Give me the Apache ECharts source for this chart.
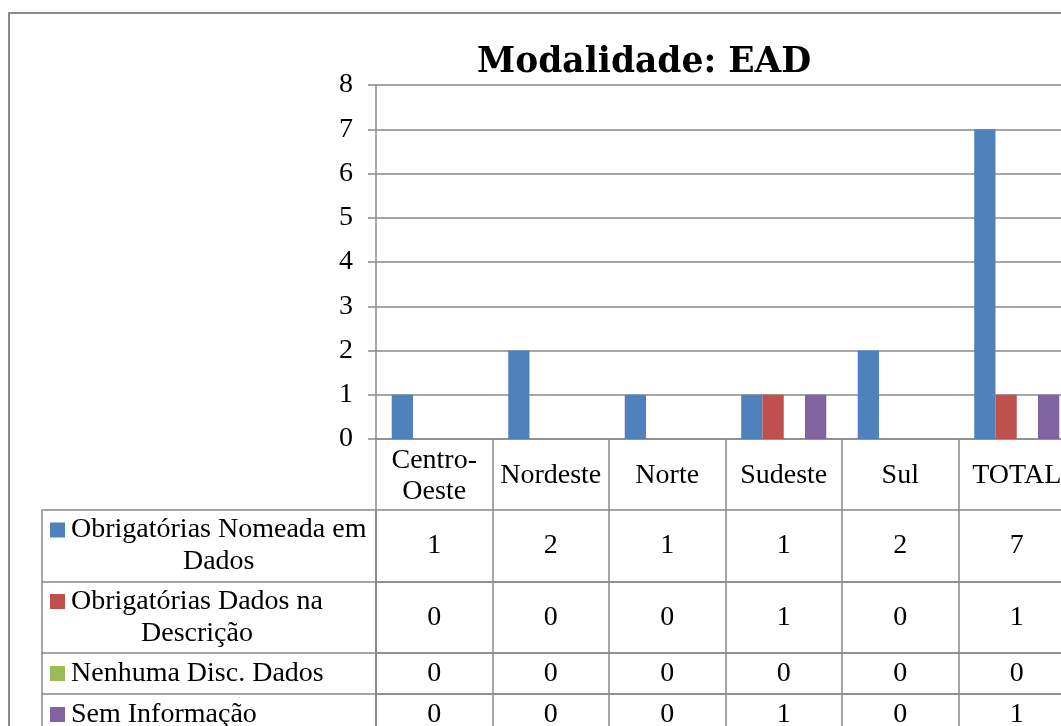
<!DOCTYPE html>
<html><head><meta charset="utf-8">
<script src="https://cdn.jsdelivr.net/npm/echarts@6/dist/echarts.min.js"></script>
<style>
html,body{margin:0;padding:0;overflow:hidden;background:#fff;width:1061px;height:726px;}
#frame{position:absolute;left:8px;top:12px;width:1200px;height:900px;border:2px solid #8a8a8a;box-sizing:border-box;}
#chart{position:absolute;left:0;top:0;width:1100px;height:760px;}
</style></head><body>
<div id="frame"></div><div id="chart"></div>
<script>
const titleText = 'Modalidade: EAD';
const categories = ['Centro-\nOeste', 'Nordeste', 'Norte', 'Sudeste', 'Sul', 'TOTAL'];
const seriesNames = ['Obrigatórias Nomeada em Dados', 'Obrigatórias Dados na Descrição', 'Nenhuma Disc. Dados', 'Sem Informação'];
const rowLabelLines = [['Obrigatórias Nomeada em', 'Dados'], ['Obrigatórias Dados na', 'Descrição'], ['Nenhuma Disc. Dados'], ['Sem Informação']];
const obrigNomeada = [1, 2, 1, 1, 2, 7];
const obrigDescricao = [0, 0, 0, 1, 0, 1];
const nenhumaDisc = [0, 0, 0, 0, 0, 0];
const semInformacao = [0, 0, 0, 1, 0, 1];
const yMin = 0, yMax = 8, yInterval = 1;
const colors = ['#4F81BD', '#C0504D', '#9BBB59', '#8064A2'];

const allSeries = [obrigNomeada, obrigDescricao, nenhumaDisc, semInformacao];
const W = 1100, H = 760;
const FONT = 'Liberation Serif';
const FS = 28;
const GRAY = '#8a8a8a';
const LW = 1.5;
const plotL = 376, plotR = 1075, plotT = 85, plotB = 439;
const rowTops = [510, 582, 653, 694];
const rowHeights = [72, 71, 41, 41];
const tableLeft = 42;

const grids = [{left: plotL, right: W - plotR, top: plotT, bottom: H - plotB}];
const xAxes = [{
  type: 'category', gridIndex: 0, data: categories,
  axisLine: {show: true, lineStyle: {color: GRAY, width: LW}},
  axisTick: {show: true, interval: 0, length: 71, alignWithLabel: false, lineStyle: {color: GRAY, width: LW}},
  axisLabel: {interval: 0, margin: 37, verticalAlign: 'middle', lineHeight: 31, fontFamily: FONT, fontSize: FS, color: '#000'}
}];
const yAxes = [{
  type: 'value', gridIndex: 0, min: yMin, max: yMax, interval: yInterval,
  axisLine: {show: true, lineStyle: {color: GRAY, width: LW}},
  axisTick: {show: true, length: 8, lineStyle: {color: GRAY, width: LW}},
  splitLine: {show: true, lineStyle: {color: GRAY, width: LW}},
  axisLabel: {margin: 23, fontFamily: FONT, fontSize: FS, color: '#000'}
}];
const series = [];
allSeries.forEach((vals, i) => {
  series.push({
    type: 'bar', name: seriesNames[i], xAxisIndex: 0, yAxisIndex: 0, data: vals,
    barGap: '0%', barCategoryGap: '27%', itemStyle: {color: colors[i]}, silent: true
  });
});

const rich = {
  t: {fontFamily: FONT, fontSize: FS, color: '#000', lineHeight: 32, padding: [0, 0, 0, 6]},
  c: {fontFamily: FONT, fontSize: FS, color: '#000', lineHeight: 32, align: 'center', padding: [0, 0, 0, 21]}
};
colors.forEach((c, i) => { rich['k' + i] = {width: 15, height: 15, backgroundColor: c, lineHeight: 32}; });

allSeries.forEach((vals, r) => {
  const gi = grids.length;
  grids.push({left: plotL, right: W - plotR, top: rowTops[r], height: rowHeights[r], show: true, borderColor: GRAY, borderWidth: LW, backgroundColor: 'transparent'});
  const xi = xAxes.length;
  xAxes.push({
    type: 'category', gridIndex: gi, data: categories,
    axisLine: {show: false}, axisTick: {show: false}, axisLabel: {show: false},
    splitLine: {show: true, interval: 0, lineStyle: {color: GRAY, width: LW}}
  });
  const yi = yAxes.length;
  const lines = rowLabelLines[r];
  yAxes.push({
    type: 'category', gridIndex: gi, data: [seriesNames[r]], position: 'left',
    axisLine: {show: true, lineStyle: {color: GRAY, width: LW}},
    axisTick: {show: true, length: plotL - tableLeft, alignWithLabel: false, lineStyle: {color: GRAY, width: LW}},
    splitLine: {show: false},
    axisLabel: {
      margin: plotL - 50, align: 'left', verticalAlign: 'middle',
      formatter: () => '{k' + r + '|}{t|' + lines[0] + '}' + (lines[1] ? '\n{c|' + lines[1] + '}' : ''),
      rich: rich
    }
  });
  yAxes.push({
    type: 'category', gridIndex: gi, data: [seriesNames[r]], position: 'left', offset: plotL - tableLeft,
    axisLine: {show: true, lineStyle: {color: GRAY, width: LW}},
    axisTick: {show: false}, axisLabel: {show: false}, splitLine: {show: false}
  });
  series.push({
    type: 'scatter', xAxisIndex: xi, yAxisIndex: yi, symbolSize: 1,
    itemStyle: {color: 'rgba(0,0,0,0)', opacity: 1}, silent: true,
    data: vals.map((v, i) => [i, 0, v]),
    label: {show: true, position: 'inside', formatter: p => String(p.value[2]), fontFamily: FONT, fontSize: FS, color: '#000', opacity: 1}
  });
});

const chart = echarts.init(document.getElementById('chart'), null, {renderer: 'canvas', width: W, height: H});
chart.setOption({
  animation: false,
  backgroundColor: 'transparent',
  title: {text: titleText, left: 477, top: 46, padding: 0, textStyle: {fontFamily: 'DejaVu Serif', fontWeight: 'bold', fontSize: 34.5, color: '#000'}},
  grid: grids, xAxis: xAxes, yAxis: yAxes, series: series
});
</script></body></html>
